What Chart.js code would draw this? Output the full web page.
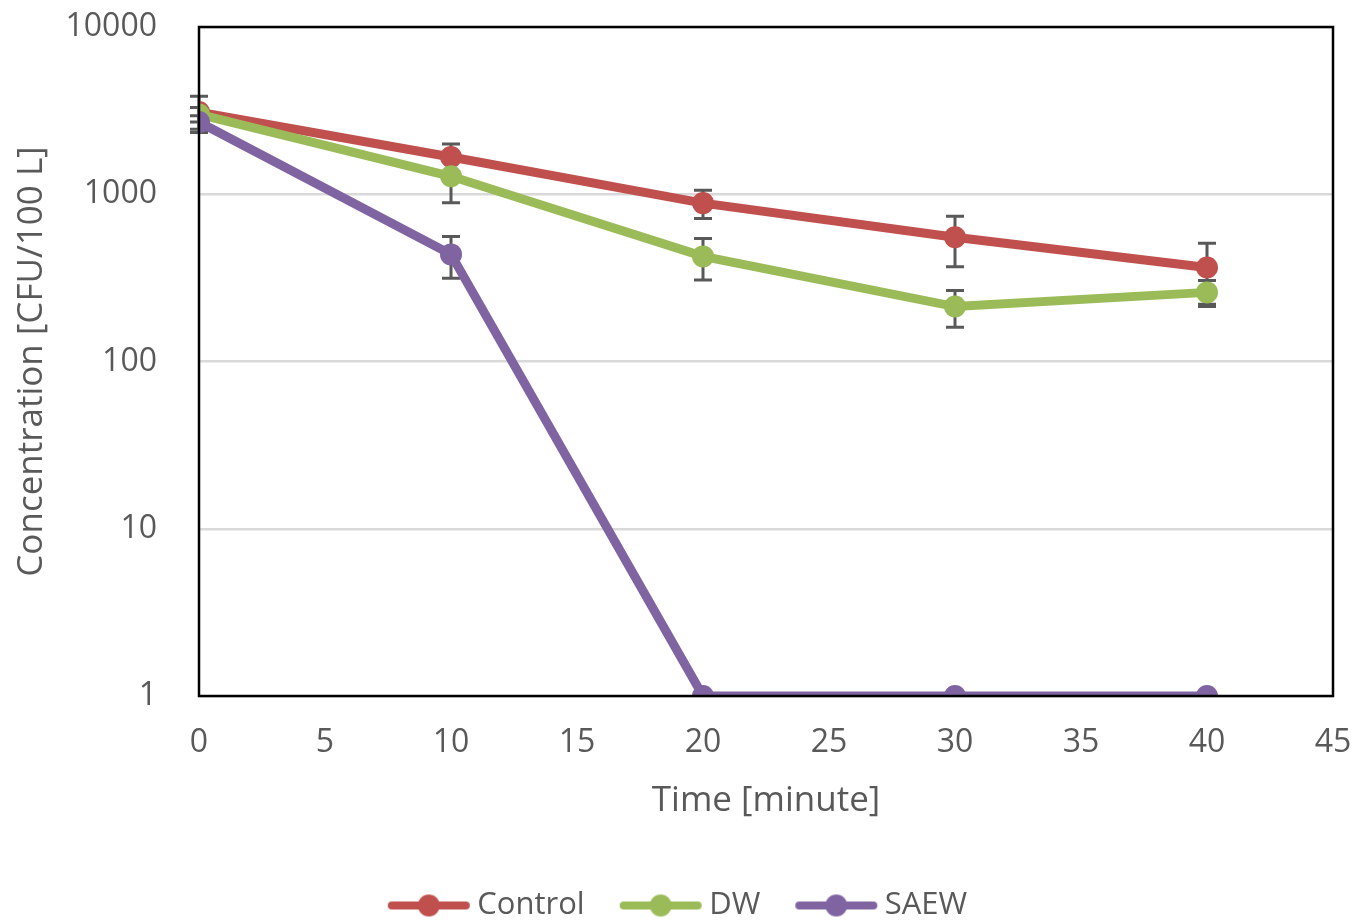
<!DOCTYPE html>
<html>
<head>
<meta charset="utf-8">
<script src="https://cdn.jsdelivr.net/npm/chart.js@4/dist/chart.umd.min.js"></script>
<style>
  html, body { margin: 0; padding: 0; background: #fff; }
  #wrap { width: 1367px; height: 922px; }
</style>
</head>
<body>
<div id="wrap"><canvas id="grafico"></canvas></div>
<script>
// datos
const tiempos = [0, 10, 20, 30, 40];
const serieNombres = ["Control", "DW", "SAEW"];
const control = [3100, 1670, 885, 553, 365];
const dw = [3000, 1280, 425, 213, 259];
const saew = [2700, 437, 1, 1, 1];
// barras de error (simetricas)
const errControl = [760, 330, 170, 185, 145];
const errDw = [300, 390, 118, 53, 46];
const errSaew = [250, 122, 0, 0, 0];
const yTicks = [1, 10, 100, 1000, 10000];
const colores = ["#C0504D", "#9BBB59", "#8064A2"];

const series = [control, dw, saew];
const errores = [errControl, errDw, errSaew];

const gris = "#595959";
const fuente = "'Open Sans', sans-serif";

// icono de leyenda: linea con circulo
function iconoLeyenda(color) {
  const c = document.createElement("canvas");
  c.width = 104;
  c.height = 26;
  const ctx = c.getContext("2d");
  ctx.strokeStyle = color;
  ctx.lineWidth = 8;
  ctx.lineCap = "round";
  ctx.beginPath();
  ctx.moveTo(24, 13);
  ctx.lineTo(98, 13);
  ctx.stroke();
  ctx.fillStyle = color;
  ctx.beginPath();
  ctx.arc(61, 13, 11, 0, Math.PI * 2);
  ctx.fill();
  return c;
}

const barrasError = {
  id: "barrasError",
  beforeDatasetsDraw(chart) {
    const ctx = chart.ctx;
    const xs = chart.scales.x;
    const ys = chart.scales.y;
    ctx.save();
    ctx.strokeStyle = gris;
    ctx.lineWidth = 3;
    series.forEach((serie, i) => {
      serie.forEach((v, j) => {
        const e = errores[i][j];
        if (!e) return;
        const px = xs.getPixelForValue(tiempos[j]);
        const top = ys.getPixelForValue(v + e);
        const bot = ys.getPixelForValue(v - e);
        ctx.beginPath();
        ctx.moveTo(px, top);
        ctx.lineTo(px, bot);
        ctx.moveTo(px - 9, top);
        ctx.lineTo(px + 9, top);
        ctx.moveTo(px - 9, bot);
        ctx.lineTo(px + 9, bot);
        ctx.stroke();
      });
    });
    ctx.restore();
  }
};

const marco = {
  id: "marco",
  afterLayout(chart) {
    // centrar la leyenda en todo el ancho
    chart.legend.left += 6;
    chart.legend.right += 6;
  },
  afterDraw(chart) {
    const a = chart.chartArea;
    const ctx = chart.ctx;
    ctx.save();
    ctx.strokeStyle = "#000";
    ctx.lineWidth = 2.5;
    ctx.strokeRect(a.left, a.top, a.right - a.left, a.bottom - a.top);
    ctx.restore();
  }
};

const grafica = document.getElementById("grafico");

new Chart(grafica, {
  type: "line",
  data: {
    labels: tiempos,
    datasets: series.map((serie, i) => ({
      label: serieNombres[i],
      data: serie.map((v, j) => ({ x: tiempos[j], y: v })),
      borderColor: colores[i],
      backgroundColor: colores[i],
      borderWidth: 9,
      pointRadius: 11,
      pointHoverRadius: 11,
      pointBorderWidth: 0,
      tension: 0,
      order: 2 - i,
    })),
  },
  options: {
    responsive: true,
    maintainAspectRatio: false,
    animation: false,
    events: [],
    layout: { padding: { left: 0, right: 34, top: 27, bottom: -9 } },
    scales: {
      x: {
        type: "linear",
        min: 0,
        max: 45,
        ticks: { stepSize: 5, color: gris, font: { family: fuente, size: 32 }, padding: 4, maxRotation: 0 },
        grid: { display: false, tickLength: 24 },
        border: { display: false },
        title: { display: true, text: "Time [minute]", color: gris, font: { family: fuente, size: 35 }, padding: { top: 0, bottom: 43 } },
        afterFit(axis) { axis.height = 169; },
      },
      y: {
        type: "logarithmic",
        min: 1,
        max: 10000,
        afterBuildTicks(axis) { axis.ticks = yTicks.map((v) => ({ value: v })); },
        ticks: { color: gris, font: { family: fuente, size: 32 }, padding: 6, callback: (v) => String(v) },
        grid: { color: "#d9d9d9", lineWidth: 2.5, drawTicks: true, tickLength: 36, tickColor: "rgba(0,0,0,0)" },
        border: { display: false },
        title: { display: true, text: "Concentration [CFU/100 L]", color: gris, font: { family: fuente, size: 35 }, padding: { top: 11, bottom: 0 } },
        afterFit(axis) { axis.width = 199; },
      },
    },
    plugins: {
      legend: {
        position: "bottom",
        labels: {
          usePointStyle: true,
          pointStyleWidth: 84,
          color: gris,
          font: { family: fuente, size: 31 },
          padding: 25,
          generateLabels(chart) {
            return chart.data.datasets.map((ds, i) => ({
              text: ds.label,
              datasetIndex: i,
              pointStyle: iconoLeyenda(colores[i]),
              fillStyle: colores[i],
              strokeStyle: colores[i],
              lineWidth: 0,
              fontColor: gris,
              hidden: false,
            }));
          },
        },
      },
      tooltip: { enabled: false },
    },
  },
  plugins: [barrasError, marco],
});
</script>
</body>
</html>
